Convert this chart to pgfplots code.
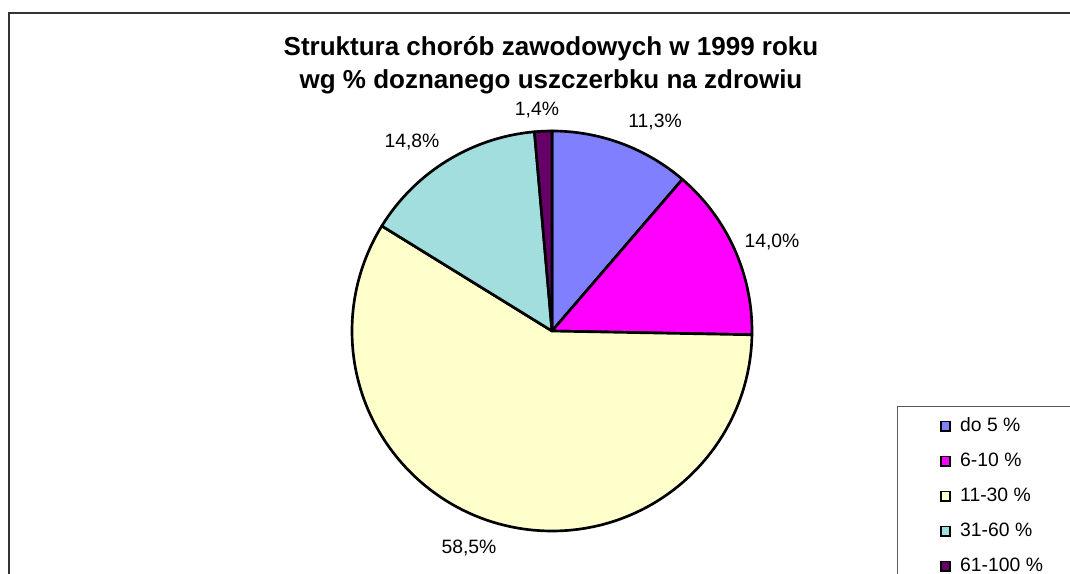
\documentclass[border=0pt]{standalone}
\usepackage{pgfplots}
\usepackage{pgfplotstable}
\usepackage{fontspec}
\setmainfont{Liberation Sans}
\pgfplotsset{compat=1.18}

\definecolor{c1}{HTML}{8080FF}
\definecolor{c2}{HTML}{FF00FF}
\definecolor{c3}{HTML}{FFFFCC}
\definecolor{c4}{HTML}{A2DEDE}
\definecolor{c5}{HTML}{660066}

% share in %, label centre (px), colour
\pgfplotstableread{
label value lx ly color
{do 5 \%} 11.3 655 122 c1
{6-10 \%} 14.0 772 242 c2
{11-30 \%} 58.5 469 548 c3
{31-60 \%} 14.8 412 142 c4
{61-100 \%} 1.4 537 110 c5
}\piedata

\tikzset{lbl/.style={font=\fontsize{14.5}{17}\selectfont, inner sep=0pt}}
\pgfkeys{/pgf/number format/assume math mode=true}

\begin{document}
\begin{tikzpicture}
\begin{axis}[name=pie, at={(0,0)}, anchor=south west,
  scale only axis, width=802.5pt, height=430.5pt,
  xmin=0, xmax=1070, ymin=0, ymax=574, y dir=reverse,
  hide axis, clip=false,
  legend image code/.code={\draw[#1, draw=black, line width=1.2pt] (0pt,-3.4pt) rectangle (6.8pt,3.4pt);},
  legend style={at={(axis cs:897,406)}, anchor=north west,
    draw=gray!70!black, line width=0.8pt,
    inner xsep=32pt, inner ysep=7.75pt, row sep=12.25pt,
    font=\fontsize{14.5}{17}\selectfont,
    nodes={inner sep=0pt, text height=11pt, text depth=3pt},
    /tikz/every odd column/.append style={column sep=7pt}},
  legend cell align=left,
]
\draw[line width=1.2pt, black!80] (axis cs:9,640) |- (axis cs:1120,13);
\node[font=\bfseries\fontsize{19.5}{24.75}\selectfont, align=center]
  at (axis cs:551,65) {Struktura chorób zawodowych w 1999 roku\\wg \% doznanego uszczerbku na zdrowiu};

\pgfplotstablegetrowsof{\piedata}
\pgfmathtruncatemacro\last{\pgfplotsretval-1}
\def\cum{0}
\pgfplotsforeachungrouped \i in {0,...,\last}{%
  \pgfplotstablegetelem{\i}{value}\of\piedata \let\v\pgfplotsretval
  \pgfplotstablegetelem{\i}{color}\of\piedata \let\c\pgfplotsretval
  \pgfplotstablegetelem{\i}{lx}\of\piedata \let\lx\pgfplotsretval
  \pgfplotstablegetelem{\i}{ly}\of\piedata \let\ly\pgfplotsretval
  \pgfmathsetmacro\aA{90-3.6*\cum}
  \pgfmathsetmacro\aB{90-3.6*(\cum+\v)}
  \edef\temp{\noexpand\filldraw[fill=\c, draw=black, line width=2pt, line join=round]
    (axis cs:552,331) -- ++(\aA:150pt) arc[start angle=\aA, end angle=\aB, radius=150pt] -- cycle;}
  \temp
  \edef\temp{\noexpand\node[lbl] at (axis cs:\lx,\ly)
    {\noexpand\pgfmathprintnumber[fixed, fixed zerofill, precision=1, use comma]{\v}\noexpand\%};}
  \temp
  \edef\temp{\noexpand\addlegendimage{fill=\c}}
  \temp
  \pgfplotstablegetelem{\i}{label}\of\piedata
  \expandafter\addlegendentry\expandafter{\pgfplotsretval}
  \pgfmathsetmacro\cum{\cum+\v}
}
\end{axis}
\pgfresetboundingbox
\useasboundingbox (pie.south west) rectangle (pie.north east);
\end{tikzpicture}
\end{document}
